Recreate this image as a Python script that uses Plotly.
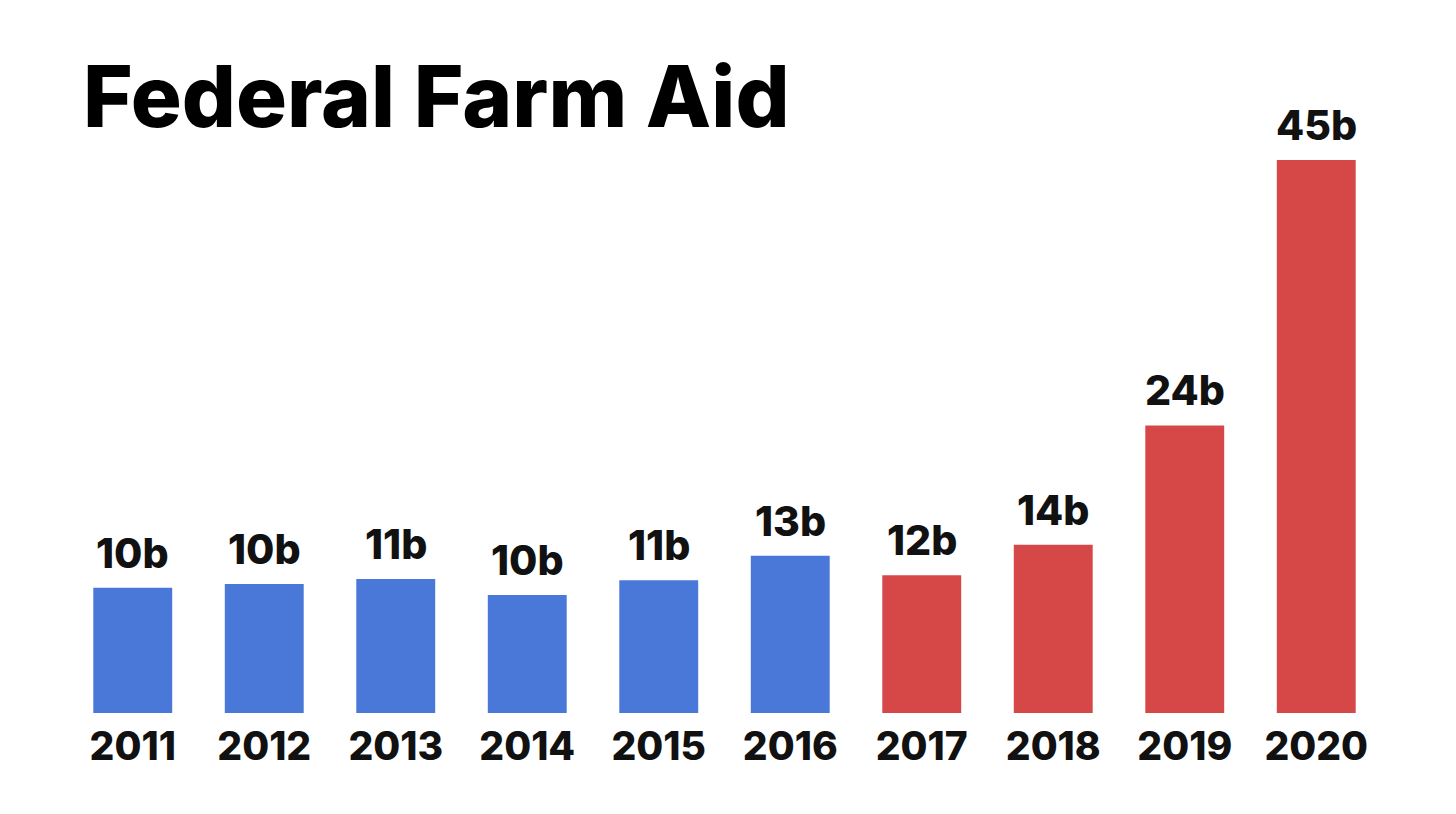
import plotly.graph_objects as go

years = ["2011", "2012", "2013", "2014", "2015", "2016", "2017", "2018", "2019", "2020"]
values = [10.2, 10.5, 10.9, 9.6, 10.8, 12.8, 11.2, 13.7, 23.4, 45.0]
labels = ["10b", "10b", "11b", "10b", "11b", "13b", "12b", "14b", "24b", "45b"]
colors = ["#4A78D8"] * 6 + ["#D64848"] * 4

FONT = "Inter"

fig = go.Figure()
fig.add_trace(go.Bar(
    x=years, y=values, marker=dict(color=colors, line=dict(width=0)),
    hoverinfo="skip", showlegend=False,
))

for i, (v, lab) in enumerate(zip(values, labels)):
    fig.add_annotation(
        x=i, y=v, text=lab, showarrow=False, yanchor="bottom", yshift=8,
        font=dict(family=FONT, size=41, color="#111111", weight=800),
    )

fig.add_annotation(
    xref="paper", yref="paper", x=0, y=1.0, xanchor="left", yanchor="middle",
    text="Federal Farm Aid", showarrow=False, xshift=14, yshift=5,
    font=dict(family=FONT, size=85, color="#000000", weight=800),
)

fig.update_layout(
    width=1456, height=814,
    margin=dict(l=59, r=82, t=93, b=109),
    paper_bgcolor="white", plot_bgcolor="white",
    bargap=0.4,
    xaxis=dict(type="category", range=[-0.5, 9.5], showgrid=False, zeroline=False,
               showline=False, ticks="",
               tickfont=dict(family=FONT, size=39, color="#111111", weight=800),
               ticklabelstandoff=7, fixedrange=True),
    yaxis=dict(range=[0, 49.8], visible=False, fixedrange=True),
)

fig.write_html("out.html")
